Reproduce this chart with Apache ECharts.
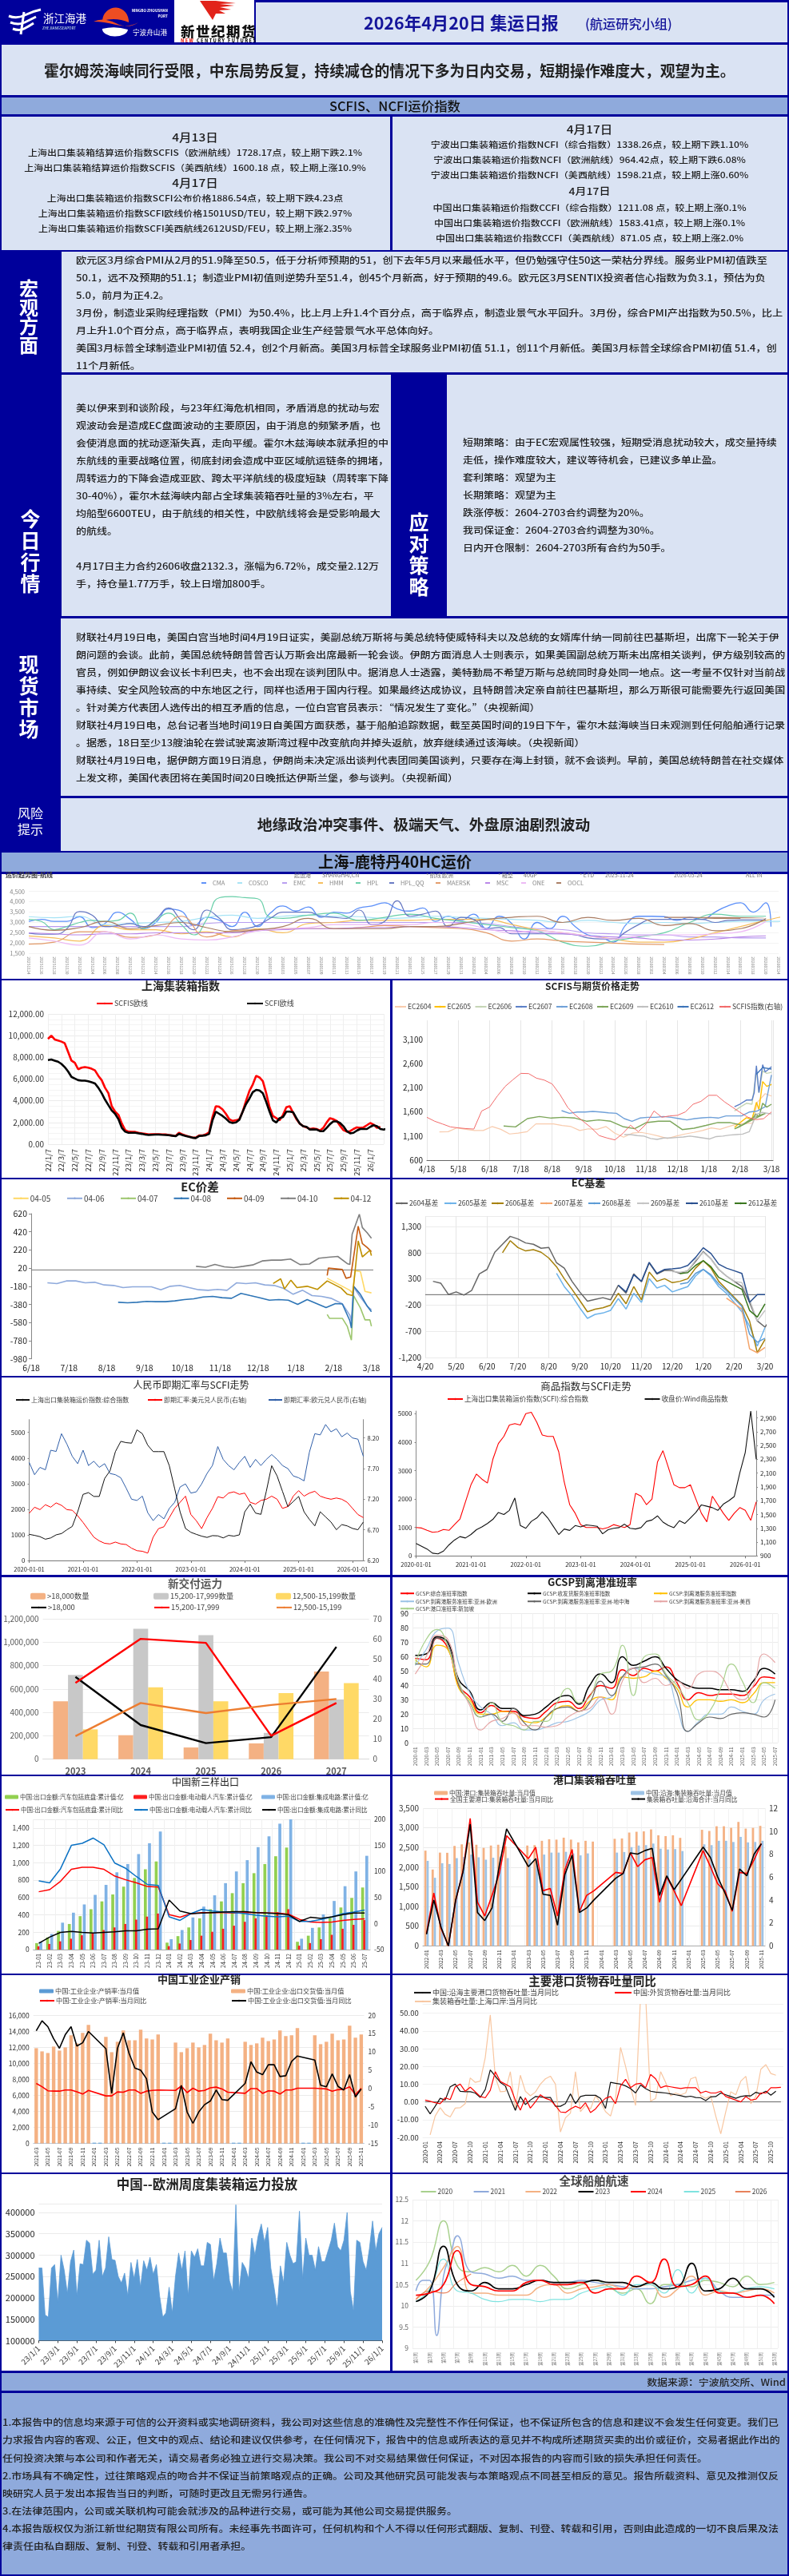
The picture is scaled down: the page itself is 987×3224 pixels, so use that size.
<!DOCTYPE html>
<html lang="zh-CN"><head><meta charset="utf-8"><title>集运日报</title>
<script src="https://cdn.jsdelivr.net/npm/echarts@6/dist/echarts.min.js"></script>
<style>
html,body{margin:0;padding:0;background:#00009b;width:987px;height:3224px;overflow:hidden;font-family:"Noto Sans CJK SC","Noto Sans",sans-serif}
.b{position:absolute}.t{position:absolute;white-space:nowrap;color:#1c1c1c;line-height:1}
#c{position:absolute;left:0;top:0;width:987px;height:3224px}
</style></head><body>
<svg class="b" style="left:0;top:0;z-index:2" width="330" height="56">
<rect x="2" y="3" width="216" height="50" fill="#00009b"/><rect x="218" y="0" width="100" height="53" fill="#fff"/>
<g fill="none" stroke="#fff" stroke-width="3"><path d="M11 20q10 4 20-1t20-7"/><path d="M13 28q10 4 18 0t14-7"/><path d="M16 36q8 3 14 0t12-7"/><path d="M30 15l-4 28"/></g>
<text x="54" y="28" font-size="13.5" fill="#fff">浙江海港</text><text x="53" y="37" font-size="4.6" fill="#dfe">ZHEJIANGSEAPORT</text>
<path d="M128 26a16 17 0 0 1 33 2q-16-7-33-2z" fill="#ee4d23"/><path d="M117 27q12-6 28 2t28-1q-12 7-28 3t-28-4z" fill="#ee4d23"/><path d="M128 36q16-4 32 1a16 9 0 0 1-32-1z" fill="#fff"/>
<text x="210" y="15" font-size="4.6" font-weight="700" fill="#fff" text-anchor="end">NINGBO ZHOUSHAN</text><text x="210" y="22" font-size="4.6" font-weight="700" fill="#fff" text-anchor="end">PORT</text><text x="166" y="44" font-size="8.6" fill="#fff">宁波舟山港</text>
<path d="M250 1h20l25 3-20 1 18 2-18 2 14 3-15 1 8 4-12 0-4 8z" fill="#e2231a"/>
<text x="226" y="46" font-size="17.5" font-weight="900" fill="#111" letter-spacing="1.5">新世纪期货</text>
<text x="226" y="53" font-size="5.6" font-weight="900" fill="#111" textLength="94"><tspan fill="#e2231a">NEW</tspan> CENTURY FUTURES</text>
</svg>
<div id="c"></div>
<script>
const headline="霍尔姆茨海峡同行受限，中东局势反复，持续减仓的情况下多为日内交易，短期操作难度大，观望为主。";
const leftBox=[["4月13日",172,15.5],["上海出口集装箱结算运价指数SCFIS（欧洲航线）1728.17点，较上期下跌2.1%",191,12],["上海出口集装箱结算运价指数SCFIS（美西航线）1600.18 点，较上期上涨10.9%",210,12],["4月17日",229,15.5],["上海出口集装箱运价指数SCFI公布价格1886.54点，较上期下跌4.23点",248,12],["上海出口集装箱运价指数SCFI欧线价格1501USD/TEU，较上期下跌2.97%",267,12],["上海出口集装箱运价指数SCFI美西航线2612USD/FEU，较上期上涨2.35%",286,12]];
const rightBox=[["4月17日",162,15.5],["宁波出口集装箱运价指数NCFI（综合指数）1338.26点，较上期下跌1.10%",181,12],["宁波出口集装箱运价指数NCFI（欧洲航线）964.42点，较上期下跌6.08%",200,12],["宁波出口集装箱运价指数NCFI（美西航线）1598.21点，较上期上涨0.60%",219,12],["4月17日",239,14],["中国出口集装箱运价指数CCFI（综合指数）1211.08 点，较上期上涨0.1%",260,12],["中国出口集装箱运价指数CCFI（欧洲航线）1583.41点，较上期上涨0.1%",279,12],["中国出口集装箱运价指数CCFI（美西航线）871.05 点，较上期上涨2.0%",298,12]];
const macroLines=["欧元区3月综合PMI从2月的51.9降至50.5，低于分析师预期的51，创下去年5月以来最低水平，但仍勉强守住50这一荣枯分界线。服务业PMI初值跌至","50.1，远不及预期的51.1；制造业PMI初值则逆势升至51.4，创45个月新高，好于预期的49.6。欧元区3月SENTIX投资者信心指数为负3.1，预估为负","5.0，前月为正4.2。","3月份，制造业采购经理指数（PMI）为50.4%，比上月上升1.4个百分点，高于临界点，制造业景气水平回升。3月份，综合PMI产出指数为50.5%，比上","月上升1.0个百分点，高于临界点，表明我国企业生产经营景气水平总体向好。","美国3月标普全球制造业PMI初值 52.4，创2个月新高。美国3月标普全球服务业PMI初值 51.1，创11个月新低。美国3月标普全球综合PMI初值 51.4，创","11个月新低。"];
const todayLines=["美以伊来到和谈阶段，与23年红海危机相同，矛盾消息的扰动与宏","观波动会是造成EC盘面波动的主要原因，由于消息的频繁矛盾，也","会使消息面的扰动逐渐失真，走向平缓。霍尔木兹海峡本就承担的中","东航线的重要战略位置，彻底封闭会造成中亚区域航运链条的拥堵，","周转运力的下降会造成亚欧、跨太平洋航线的极度短缺（周转率下降","30-40%），霍尔木兹海峡内部占全球集装箱吞吐量的3%左右，平","均船型6600TEU，由于航线的相关性，中欧航线将会是受影响最大","的航线。","","4月17日主力合约2606收盘2132.3，涨幅为6.72%，成交量2.12万","手，持仓量1.77万手，较上日增加800手。"];
const stratLines=["短期策略：由于EC宏观属性较强，短期受消息扰动较大，成交量持续","走低，操作难度较大，建议等待机会，已建议多单止盈。","套利策略：观望为主","长期策略：观望为主","跌涨停板：2604-2703合约调整为20%。","我司保证金：2604-2703合约调整为30%。","日内开仓限制：2604-2703所有合约为50手。"];
const spotLines=["财联社4月19日电，美国白宫当地时间4月19日证实，美副总统万斯将与美总统特使威特科夫以及总统的女婿库什纳一同前往巴基斯坦，出席下一轮关于伊","朗问题的会谈。此前，美国总统特朗普曾否认万斯会出席最新一轮会谈。伊朗方面消息人士则表示，如果美国副总统万斯未出席相关谈判，伊方级别较高的","官员，例如伊朗议会议长卡利巴夫，也不会出现在谈判团队中。据消息人士透露，美特勤局不希望万斯与总统同时身处同一地点。这一考量不仅针对当前战","事持续、安全风险较高的中东地区之行，同样也适用于国内行程。如果最终达成协议，且特朗普决定亲自前往巴基斯坦，那么万斯很可能需要先行返回美国","。针对美方代表团人选传出的相互矛盾的信息，一位白宫官员表示：“情况发生了变化。”（央视新闻）","财联社4月19日电，总台记者当地时间19日自美国方面获悉，基于船舶追踪数据，截至英国时间的19日下午，霍尔木兹海峡当日未观测到任何船舶通行记录","。据悉，18日至少13艘油轮在尝试驶离波斯湾过程中改变航向并掉头返航，放弃继续通过该海峡。（央视新闻）","财联社4月19日电，据伊朗方面19日消息，伊朗尚未决定派出谈判代表团同美国谈判，只要存在海上封锁，就不会谈判。早前，美国总统特朗普在社交媒体","上发文称，美国代表团将在美国时间20日晚抵达伊斯兰堡，参与谈判。（央视新闻）"];
const legalLines=["1.本报告中的信息均来源于可信的公开资料或实地调研资料，我公司对这些信息的准确性及完整性不作任何保证，也不保证所包含的信息和建议不会发生任何变更。我们已","力求报告内容的客观、公正，但文中的观点、结论和建议仅供参考，在任何情况下，报告中的信息或所表达的意见并不构成所述期货买卖的出价或征价，交易者据此作出的","任何投资决策与本公司和作者无关，请交易者务必独立进行交易决策。我公司不对交易结果做任何保证，不对因本报告的内容而引致的损失承担任何责任。","2.市场具有不确定性，过往策略观点的吻合并不保证当前策略观点的正确。公司及其他研究员可能发表与本策略观点不同甚至相反的意见。报告所载资料、意见及推测仅反","映研究人员于发出本报告当日的判断，可随时更改且无需另行通告。","3.在法律范围内，公司或关联机构可能会就涉及的品种进行交易，或可能为其他公司交易提供服务。","4.本报告版权仅为浙江新世纪期货有限公司所有。未经事先书面许可，任何机构和个人不得以任何形式翻版、复制、刊登、转载和引用，否则由此造成的一切不良后果及法","律责任由私自翻版、复制、刊登、转载和引用者承担。"];

// ---- chart data ----
const oceanDates=["20251124","20251126","20251128","20251130","20251202","20251204","20251206","20251208","20251210","20251212","20251214","20251216","20251218","20251220","20251222","20251224","20251226","20251228","20251230","20260101","20260103","20260105","20260107","20260109","20260111","20260113","20260115","20260117","20260119","20260121","20260123","20260125","20260127","20260129","20260131","20260202","20260204","20260206","20260208","20260210","20260212","20260214","20260216","20260218","20260220","20260222","20260224","20260226","20260228","20260302","20260304","20260306","20260308","20260310","20260312","20260314","20260316","20260318","20260320","20260324"];
const oCMA=[3050,3150,3050,3050,3280,2750,2950,3500,3150,2700,3000,3650,3550,2850,3250,3100,2800,3500,2800,3450,3800,3550,3750,3250,3500,3450,3700,3800,3950,3650,3550,3700,3050,3300,3100,3400,2700,3300,2950,2200,3000,2700,3300,2800,2400,2300,2050,2900,3300,3300,3280,3100,3250,3150,3500,3800,3950,3500,3950];
const oQQ=[2480,2430,2430,2700,3530,3350,2800,2850,2950,2800,3150,3700,3100,2650,3600,3200,2650,2700,2850,3200,3500,3500,3500,3300,3250,3200,3600,2900,3050,4050,3300,3400,3550,2800,3250,3150,2700,2750,2450,2450,2450,2450,2450,2400,2250,2200,2200,2550,2900,3150,3150,3150,3150,3150,3000,3100,3120,3120,3120];
const oCOSCO=[3280,3230,3300,2900,2950,3000,3050,3250,3350,3200,3300,3350,3300,3280,3200,3230,3300,3250,3200,3150,3100,3000,3100,3000,2950,3000,2950,3000,3050,3050,3050,3050,3050,3050];
const oEMC=[2800,2800,2800,2800,2800,2800,2800,2950,3000,3000,3000,3000,3000,3000,3000,3000,3000,3000,2950,2800,2700,2650,2500,2450,2400,2400,2300,2300,2250,2250];
const oHMM=[2350,2250,2100,2850,2650,2650,2450,2550,2300,2700,2500,2950,3000,3100,3100,3100,3150,3150,3150,2900,2650,2500,2350,2200,2050,2050,2200,2500,2800,3100,3300,3150];
const oHPLa=[3150,3050,2650,2800,3000,3100,3050,3100,3450,2700,3100,3450,2900,2400,3150,4200,4250,4200,4150,3250];
const oHPLb=[3200,3350,3450,3100,3250,3400,3200,3050,2900,2750,2600,2050,1850,2100,2300,2500,3000,3400,3300,3300];
const oMAERSK=[1950,2050,2550,2550,2280,2400,3300,2300,2600,2650,2700,2700,2700,2750,2850,2800,2750,2700,2500,2100,2200,2100,2050,2000,1950,1930];
const oMSC=[2500,2450,2400,2450,2450,2500,2500,2500,2500,2600,2650,2700,2700,2750,2750,2800,2800,2750,2650,2600,2500,2450,2350,2300,2250,2150,2150,2200,2300,2350];
const oONE=[2250,2100,1900,2550,2200,2400,2200,2150,2300,2600,2700,2750,2900,2900,2900,2900,3000,2950,2700,2500,2600,2500,2350,2200,2350,2400,2400,2450,2550,3050];
const oOOCL=[2800,2620,2750,3050,2700,2850,3000,2750,2550,2650,2800,3200,2700,2700,2700,2800,2800,2950,3150,3250,3300,3000,3250,3100,3200,2850,2950,2600,2700,3200];
const oOOCLb=[3250,3250,3200,3200];
const scfisLabels=["22/1/7","22/3/7","22/5/7","22/7/7","22/9/7","22/11/7","23/1/7","23/3/7","23/5/7","23/7/7","23/9/7","23/11/7","24/1/7","24/3/7","24/5/7","24/7/7","24/9/7","24/11/7","25/1/7","25/3/7","25/5/7","25/7/7","25/9/7","25/11/7","26/1/7"];
const scfisEU=[9700,10000,9650,9550,9450,9300,8500,7700,7500,6900,7050,7100,7050,6950,6800,6300,5900,5200,4700,3500,3000,2700,1900,1300,1150,1130,1130,1050,1000,950,900,920,920,920,900,900,850,800,750,1050,900,800,700,620,600,800,800,900,1100,2500,3500,3450,3200,2800,2300,2150,2200,2300,3000,4000,4900,5500,6300,6150,5800,4700,3400,2600,2400,2200,2700,3400,3500,2900,2300,1900,1650,1550,1400,1450,1400,1250,1500,2000,2400,2300,2150,1700,1300,1150,1200,1400,1550,1500,1550,1750,1950,1800,1500,1600];
const scfiEU=[7750,7800,7700,7600,7400,7100,6700,6200,6050,5900,5850,5850,5800,5700,5600,5200,4700,4100,3600,3100,2800,2300,1500,1150,1050,1050,1050,1000,950,880,850,870,880,880,860,850,830,780,730,950,850,750,680,600,560,750,780,820,950,2200,3000,2800,2600,2350,2050,1950,2000,2250,3000,3700,4200,4800,5000,4950,4700,3900,3000,2200,2000,2400,2500,3000,3000,2950,2400,1900,1650,1600,1350,1350,1350,1200,1200,1500,1850,2100,2100,1950,1650,1200,1000,1050,1250,1400,1400,1400,1600,1750,1650,1400,1350,1450];
const monthLabels1=["4/18","5/18","6/18","7/18","8/18","9/18","10/18","11/18","12/18","1/18","2/18","3/18"];
const fSCFIS=[1489,1407,1350,1290,1270,1255,1245,1620,1700,1930,2130,2270,2400,2395,2300,2260,2180,1960,1690,1530,1400,1270,1110,1060,1020,1150,1325,1190,1350,1620,1490,1517,1530,1600,1760,1820,1945,1945,1810,1700,1590,1490,1440,1460,1600];
const f04=[1187,1190,1270,1240,1215,1215,1297,1240,1143,1160,1190,1352,1352,1352,1320,1297,1215,1250,1240,1297,1160,1077,1160,1176,1143,1100,1050,1100,1143,1176,1215,1270,1240,1297,1352];
const f04b=[[10.4,1370],[10.55,1800],[10.8,1980],[11,1930]];
const f09=[1308,1290,1462,1506,1473,1489,1473,1407,1434,1407,1297,1253,1380,1407,1407,1235,1262,1320,1380,1380,1325,1489,1570];
const f08=[1627,1572,1599,1599,1610,1599,1583,1572,1462,1407,1473,1489,1489,1506,1489,1462,1434,1462,1478,1489,1473,1517,1517,1517,1599,1620,1709];
const f07=[[9.82,1709],[10,1764],[10.2,1846],[10.38,1846],[10.45,2000],[10.52,2560],[10.6,2000],[10.72,2580],[10.8,2430],[10.9,2480],[11,2540]];
const f06=[[9.82,1620],[10,1700],[10.2,1780],[10.38,1760],[10.52,2460],[10.6,2000],[10.72,2450],[10.85,2400],[11,2420]];
const f05=[[9.82,1280],[10,1380],[10.2,1480],[10.38,1450],[10.52,1800],[10.6,1650],[10.72,2230],[10.85,2130],[11,2170]];
const f09b=[[9.82,1250],[10,1300],[10.2,1370],[10.38,1450],[10.5,1560],[10.6,1500],[10.72,1780],[10.85,1700],[11,1760]];
const f10=[1130,1130,1110,1100,1050,1030,1060,1060,1070,1080,1100,1080,1060,1040,1090,1100,1120,1130,1140,1190];
const f10b=[[10.52,1550],[10.7,1590],[11,1560]];
const f12=[[10.52,2380],[10.72,2520],[11,2490]];
const months2=["6/18","7/18","8/18","9/18","10/18","11/18","12/18","1/18","2/18","3/18"];
const sp06=[-142,-150,-121,-121,-142,-136,-165,-171,-195,-186,-186,-186,-218,-180,-171,-195,-218,-224,-215,-224,-142,-150,-142,-165,-171,-203,-268,-224,-283,-292,-312];
const sp06b=[[8.23,-372],[8.43,-500],[8.47,-560],[8.53,-190],[8.71,-300],[8.89,-400],[9,-440]];
const sp08=[-356,-362,-356,-347,-350,-350,-341,-327,-318,-298,-292,-306,-312,-259,-283,-306,-333,-327,-333,-380,-327,-371,-415,-371];
const sp08b=[[8.23,-375],[8.43,-560],[8.47,-640],[8.53,-180],[8.71,-270],[8.89,-400],[9,-460]];
const sp07=[[7.83,-490],[7.89,-533],[8.23,-533],[8.36,-620],[8.47,-774],[8.53,-283],[8.71,-420],[8.83,-550],[8.96,-550],[9,-621]];
const sp05=[[7.83,-92],[7.96,-121],[8.23,-180],[8.43,-224],[8.5,-255],[8.57,-9],[8.71,-18],[8.83,-236],[9,-253]];
const sp09=[[7.83,-62],[7.86,20],[8.23,5],[8.33,-92],[8.45,-78],[8.65,482],[8.76,291],[8.89,247],[9,202]];
const sp10=[40,30,60,35,26,40,55,99,108,108,120,60,65,129,140,149,70];
const sp10b=[[8.43,60],[8.49,394],[8.68,614],[8.76,467],[8.89,408],[9,349]];
const sp12=[[6.4,-150],[6.6,-98],[6.7,-209],[6.87,-112],[7.03,-195],[7.3,-180],[7.57,-215],[7.83,-121],[8.2,-200],[8.36,-268],[8.5,-283],[8.65,320],[8.76,144],[8.96,217],[9,158]];
const months3=["4/20","5/20","6/20","7/20","8/20","9/20","10/20","11/20","12/20","1/20","2/20","3/20"];
const b04=[255,220,2,53,-8,78,396,482,810,962,1113,1063,987,962,886,901,608,507,255,53,-124,-89,-58,-99,179,27,396,245,608,391,467,457,406,457,633,820,684,482,356,255,154,-149,-500,-620,-402];
const b06=[800,1030,900,835,860,810,699,532,305,103,-109,-326,-276,-250,-200,27,-175,154,-99,431,255,305,229,255,305,507,649,507,255,103,-48,-200,-503,-1109,-856];
const b05=[406,154,-23,-250,-452,-376,-351,-300,-74,-275,27,-149,305,128,179,53,103,154,356,482,356,154,27,-149,-326,-604,-983,-629];
const b10=[179,53,381,255,618,406,482,492,507,558,709,896,785,583,507,457,406,-149,2,2];
const b09=[440,430,450,659,810,684,482,356,255,230,-98,-500,-300];
const b12=[400,420,558,649,532,330,255,179,103,-301,-427,-175];
const b08=[204,230,406,482,381,204,78,-74,-225,-755,-907,-831];
const b07=[-64,-170,-275,-1033,-1109,-1009];
const yearLabels=["2020-01-01","2021-01-01","2022-01-01","2023-01-01","2024-01-01","2025-01-01","2026-01-01"];
const fxSCFI=[1020,980,930,830,880,1000,1050,1200,1330,1900,2580,2650,2500,2500,3200,3500,4250,4650,4600,4580,5100,4950,4500,4250,4250,4250,3700,2800,1900,1250,1100,1020,950,900,970,960,880,980,950,1000,1900,2200,1850,1800,2700,3700,3300,2700,2100,2300,2500,1900,1600,1350,1900,1700,1500,1200,1400,1350,1250,1200,1500];
const fxUSD=[6.97,7.07,7.03,7.11,7.07,7.14,7.1,7.03,7.02,6.93,6.82,6.7,6.58,6.52,6.48,6.47,6.5,6.47,6.46,6.4,6.36,6.35,6.32,6.58,6.72,6.75,6.9,7.05,7.15,7.25,6.95,6.85,6.72,6.9,7.05,7.24,7.22,7.3,7.32,7.28,7.3,7.15,7.12,7.18,7.2,7.25,7.2,7.05,7.08,7.25,7.34,7.25,7.3,7.33,7.25,7.22,7.2,7.22,7.2,7.15,7.05,6.95,6.9];
const fxEUR=[7.8,7.6,7.72,7.68,8,7.98,8.27,8.1,7.9,7.78,8,7.75,7.82,7.72,7.78,7.62,7.6,7.55,7.38,7.2,7.18,7.25,6.98,6.85,6.95,6.88,7.05,7.15,7.4,7.45,7.3,7.32,7.45,7.62,7.75,8.06,7.85,7.75,7.68,7.8,7.9,7.72,7.85,7.75,7.85,7.93,7.85,7.75,7.7,7.58,7.55,7.5,7.97,8.27,8.25,8.42,8.3,8.35,8.22,8.28,8.2,8.18,7.9];
const cmSCFI=[1000,980,900,830,850,930,900,1100,1300,1900,2500,2880,2700,2560,3400,3950,4200,4600,4650,4600,5000,5050,4700,4250,4200,4200,3660,2600,1800,1500,1100,1000,1000,1000,950,1000,1100,1050,1000,1100,2200,2100,1800,2000,3300,3700,3100,2500,2400,2400,2500,2000,1500,1200,2100,1800,1500,1250,1500,1700,1600,1250,1900];
const cmWind=[1080,1040,1000,940,930,970,1060,1130,1180,1160,1210,1280,1320,1370,1430,1530,1500,1560,1740,1340,1300,1400,1450,1540,1450,1330,1210,1290,1270,1340,1320,1350,1340,1330,1220,1280,1300,1310,1360,1300,1290,1310,1400,1420,1480,1390,1340,1310,1410,1370,1450,1530,1640,1620,1600,1560,1650,1700,1760,2100,2400,3000,2300];
const delYears=["2023","2024","2025","2026","2027"];
const dQty18=[495000,205000,100000,135000,750000],dQty15=[720000,1115000,1060000,225000,510000],dQty12=[255000,615000,495000,565000,650000];
const dL18=[41,17,8,11,56],dL15=[38,60,58,11.7,28],dL12=[11.5,28,23,27,30];
const gCat=[];for(let y=2020;y<=2025;y++)for(let m=1;m<=12;m++)if(y<2025||m<=7)gCat.push(y+"-"+String(m).padStart(2,"0"));
const gAll=[59,58,73,66,40,32,21,26,22,22,18,17,22,28,29,24,33,40,38,51,47,52,50,53,42,30,35,33,34,34,33,39,46,45];
const gCargo=[61,62,74,70,44,36,23,28,24,24,19,20,25,31,33,27,40,48,42,60,54,57,60,52,44,40,38,38,37,37,36,43,52,48];
const gSvc=[58,53,68,65,38,30,20,20,22,21,15,14,18,24,26,22,29,32,30,46,45,46,50,45,38,25,30,30,29,30,28,34,42,42];
const gEU=[54,65,78,80,55,35,25,20,12,14,9,9,11,14,15,18,22,30,32,46,52,50,48,46,25,8,15,20,20,25,22,20,30,34];
const gMed=[55,55,73,69,40,28,18,20,15,24,14,9,18,24,25,22,28,43,33,46,52,53,55,47,35,8,14,18,17,20,21,20,18,30];
const gUS=[48,60,75,72,42,26,9,15,17,21,12,12,11,12,18,22,24,32,20,43,52,42,45,40,43,38,48,50,47,35,30,40,62,56];
const gSG=[55,72,79,67,42,28,18,28,14,12,9,15,15,28,38,28,32,48,50,68,33,60,62,48,40,28,16,22,38,55,43,28,42,38];
const xCat=[];for(const y of [23,24])for(let m=1;m<=12;m++)xCat.push(y+"-"+String(m).padStart(2,"0"));for(let m=1;m<=7;m++)xCat.push("25-0"+m);
const xCar=[75,140,215,295,385,465,555,635,725,825,925,1015,80,155,255,360,465,555,650,765,880,985,1075,1175,90,160,255,370,485,595,715];
const xEV=[38,65,95,125,165,190,225,255,295,345,380,415,40,70,110,160,205,240,275,320,360,395,430,465,45,75,120,170,240,285,340];
const xIC=[90,180,310,425,520,630,745,890,985,1100,1225,1360,120,225,370,495,625,765,900,1030,1180,1305,1450,1500,125,250,405,560,730,900,1080];
const xCarY=[61,65,81,104,108,108,104,91,84,78,71,70,17,12,19,21,21,21,20,21,21,20,20,18,8,3,2,3,6,8,9];
const xEVY=[82,78,105,150,154,164,151,116,106,90,75,73,13,6,19,27,24,22,21,19,16,14,13,14,4,4,8,13,19,22,26];
const xICY=[-38,-26,-17,-15,-17,-18,-17,-16,-14,-14,-11,-10,45,24,19,20,21,22,23,23,21,20,19,17,4,12,10,13,17,20,20];
const pCat=[];for(let y=2022;y<=2025;y++)for(let m=1;m<=12;m++)if(y<2025||m<=11)pCat.push(y+"-"+String(m).padStart(2,"0"));
const n=null;
const pChina=[2420,1940,2370,2365,2540,2580,2630,2570,2490,2550,2570,2530,n,n,2550,2560,2670,2710,2700,2750,2700,2630,2670,2650,n,n,2720,2730,2880,2900,2910,2960,2810,2790,2810,2745,n,n,2950,2920,3040,3040,3000,3150,2980,3000,3050];
const pCoast=[2160,1730,2100,2080,2230,2260,2320,2250,2190,2240,2270,2230,n,n,2200,2230,2320,2370,2370,2390,2350,2300,2350,n,n,n,2370,2385,2510,2550,2560,2600,2470,2450,2460,2410,n,n,2580,2560,2670,2670,2640,2770,2630,2640,2670];
const pYoY=[1.1,4.6,1.5,0,3.9,6.5,11.1,3.8,2.6,4.4,6.3,9.6,n,n,7.6,8.6,4.8,5,2.6,6.6,8.4,3,4.4,4.8,n,n,6.4,6.3,8.1,6.9,7.5,7.7,3.8,6,4.8,3.5,n,n,8.3,6.9,5.4,4.8,3,6.4,6.3,7.5,8.9];
const pCoastY=[1,4,1.6,0,4,6.4,10.6,2.9,2.2,3.3,7,10.2,n,n,6.9,7.6,4.5,4.4,1.8,6.2,7.9,2.9,3.3,4,n,n,5.9,6.3,8.1,8,8.3,8.5,4.4,6.1,4.9,5.8,n,n,8.6,7.7,6,4.6,3.1,6.7,6.1,8,8.9];
const iCat=[];for(let y=2021;y<=2025;y++)for(let m=1;m<=12;m++)if((y>2021||m>=3)&&(y<2025||m<=11))iCat.push(y+"-"+String(m).padStart(2,"0"));
const iExport=[11900,11500,11300,12100,11600,12000,13500,12500,13800,14800,n,n,13300,11400,12700,14100,12900,12900,14200,13100,13000,13600,n,n,12600,11400,11900,12600,12000,12300,13700,12900,12600,13100,n,n,12700,12300,12500,13200,12800,13000,14100,13400,13500,14400,n,n,13500,12400,12700,13700,12900,13000,14700,13200,13600];
const iRate=[97,98,98,97,97,98,97,97,98,98,99,98,97,97,98,97,97,98,97,97,98,98,98,97,96,97,98,97,97,97,98,97,97,98,97,97,96,97,97,97,97,97,97,97,98,98,97,97,97,97,97,97,97,97,97,97,97];
const iRateY=[1.4,.5,-.6,-.7,-.7,-.4,-.4,-.9,-1.5,-.5,n,n,-2,-2,-.9,-1,-.4,-.4,-1.3,-.7,-.5,-.4,n,n,-.5,.7,-1.1,.1,-.7,-.5,.2,.4,-.1,-1,n,n,-1.3,0,0,-1.3,-.6,-.7,-1.5,-.4,-.4,.1,n,n,.1,0,-.1,-.7,-.3,-.2,.5,-1.7,.1];
const iExpY=[15.8,18.5,16.9,13.6,11,14.7,16.9,11.6,12.5,15.6,n,n,10.9,-1.3,11,15.2,9.6,5.6,5,2.7,-6.4,-8.5,n,n,-5.5,.9,-6.4,-9.5,-6.4,-4.4,-3.4,-.4,-3,-3.2,n,n,1.4,7.3,4.5,3.8,6.5,6.5,3.3,3.5,7.4,8.9,n,n,7.8,.9,.5,4,.6,-.4,3.8,-2.3,-.1];
const tCat=[];for(let y=2020;y<=2025;y++)for(let m=1;m<=12;m++)tCat.push(y+"-"+String(m).padStart(2,"0"));
const tCoast=[-2.5,-6.8,-2.5,2,1,8.5,10,6,5.7,5.7,5,2.5,7,18,14.5,11,9,2,-4.8,3,-1.5,1,3,2.8,2.5,2.5,-2.5,-2.5,-1,4.5,-1,3,3.7,3.7,3.7,2,-3.7,11,10.5,10,9,7.5,5,9.5,7.5,6,5.5,5.3,5,4.5,4,3.5,2.8,3.2,2.5,2.3,.7,2.8,3,5,4,3,2,3,3.5,3.4,5.4,4.5,6,3.8,6];
const tTrade=[1,.3,-.5,-1,2.3,1.3,8.5,10,6,8.3,5.7,3,2.3,6.5,17,11.5,10,8.5,1,-4.7,2.3,-3.5,0,4,2,1,-2,-5.7,-6,-4,-2.5,-3.7,-.5,-6,-4,-.5,2,3,-1,9,12.7,8,10,10.5,8,15.5,13,8,9,8.5,8,7.5,8,8,8,5,6,5,5,6,3,2,1,0,3,1,1.5,5,5,8,8,8.2];
const tSH=[-18.6,-8,-3.3,-7,-8.5,-3.5,-3.3,-1,13.5,11,11.7,25,49,14,5.7,6,17,-4,15,6,3.4,5.5,10,13,14.5,10,-17,-9,-6.3,17,-5.5,-2,-4,3.4,-.3,-5.5,-8,2,30.7,20,8,-2,60,60,.4,2,17,11,3.4,5,4,5,13,14,3.4,2,3.4,-8,-18,-5.5,5.7,4,11.7,14.4,-1,3,18.4,21,16,15];
const wLabels=["23/1/1","23/3/1","23/5/1","23/7/1","23/9/1","23/11/1","24/1/1","24/3/1","24/5/1","24/7/1","24/9/1","24/11/1","25/1/1","25/3/1","25/5/1","25/7/1","25/9/1","25/11/1","26/1/1"];
const weeklyCap=[270,270,160,155,270,278,190,300,265,210,285,312,205,280,278,335,328,255,265,335,250,270,343,290,288,250,235,258,205,283,245,290,225,287,265,295,255,278,205,155,165,225,165,250,305,265,310,205,310,295,315,275,275,330,325,240,280,340,305,305,240,215,418,215,283,270,245,340,300,345,373,330,365,270,225,175,275,235,330,300,280,285,403,245,340,300,300,265,320,285,285,310,335,375,320,310,335,400,215,170,335,330,285,265,315,380,310,350,365];
const wkCat=[];for(let w=1;w<=53;w++)wkCat.push("第"+w+"周");
const s20=[10.6,11.05,12,10.95,10.8,10.9,10.8,10.95,10.7,10.95,10.7,10.4,10.5,10.6,10.45,10.3,10.4,10.05,10.5,10.5,10.45,10.6,10.55,10.45,10.7,10.5,10.55];
const s21a=[10.35,10.6,10.6,9.3,10.7,11.2,11.65];
const s21=[10.8,10.75,10.65,10.7,10.6,10.6,10.55,10.55,10.6,10.55,10.5,10.45,10.4,10.4,10.45,10.5,10.6,10.65,10.35,10.2,10.2,10.25,10.25];
const s22=[10.15,10.45,10.9,11.4,10.3,10.3,10.25,10.25,10.25,10.45,10.5,10.3,10.4,10.45,10.5,10.4,10.45,10.5,10.2,10.4,10.7,10.25,10.35,10.3,10.35,10.4,10.3];
const s23=[10.1,10.35,11.4,10.5,10.35,10.55,10.4,10.4,10.5,10.6,10.55,10.55,10.55,10.6,10.55,10.55,10.45,10.55,10.4,10.45,11,10.35,10.4,10.65,10.4,10.4,10.2];
const s24=[10.25,10.3,10.5,11.3,10.5,10.45,10.35,10.35,10.55,10.6,10.5,10.5,10.55,10.3,10.4,10.4,10.7,10.55,11.1,10.45,10.5,10.7,10.3,10.3,10.2,10.25,10.05];
const s25=[10.1,10.4,11.1,10.35,10.3,10.15,10.1,10.15,10.15,10.1,10.15,10.15,10.3,10.4,10.45,10.25,10.5,10.5,10.3,10.85,10.3,10.65,10.35,10.3,10.4,10.45,10.4];
const s26=[10.15,10.35,10.3,10.55,10.75];

// ---- builders ----
const P=(s,st,a)=>a.map((v,i)=>[s+i*st,v]);
const F='"Noto Sans CJK SC","Noto Sans",sans-serif';
const opt={animation:false,backgroundColor:'transparent',textStyle:{fontFamily:F},title:[],legend:[],grid:[],xAxis:[],yAxis:[],series:[],graphic:[]};
const isO=o=>o&&typeof o==='object'&&!Array.isArray(o);
function mg(a,b){const r=Object.assign({},a);for(const k in b||{})r[k]=isO(b[k])&&isO(r[k])?mg(r[k],b[k]):b[k];return r}
function G(l,t,r,b){opt.grid.push({left:l,top:t,width:r-l,height:b-t});return opt.grid.length-1}
function YA(g,min,max,iv,fs,o){opt.yAxis.push(mg({type:'value',gridIndex:g,min,max,interval:iv,axisLabel:{fontSize:fs,color:'#333',margin:5,fontFamily:F},splitLine:{show:true,lineStyle:{color:'#ebebeb'}},axisLine:{show:false},axisTick:{show:false}},o));return opt.yAxis.length-1}
function RA(g,min,max,iv,fs,o){return YA(g,min,max,iv,fs,mg({position:'right',splitLine:{show:false}},o))}
function XV(g,labels,max,fs,o){opt.xAxis.push(mg({type:'value',gridIndex:g,min:0,max,interval:1,axisLabel:{fontSize:fs,color:'#333',margin:6,fontFamily:F,showMaxLabel:false,formatter:v=>Number.isInteger(v)&&labels[v]!==undefined?labels[v]:''},splitLine:{show:false},axisLine:{show:false,onZero:false},axisTick:{show:false}},o));return opt.xAxis.length-1}
function XC(g,cats,iv,fs,o){opt.xAxis.push(mg({type:'category',gridIndex:g,data:cats,axisLabel:{interval:iv,rotate:90,fontSize:fs,color:'#444',margin:5,fontFamily:F},axisLine:{show:true,onZero:false,lineStyle:{color:'#bbb'}},axisTick:{show:false}},o));return opt.xAxis.length-1}
function L(name,c,w,x,y,data,e){opt.series.push(mg({type:'line',name,xAxisIndex:x,yAxisIndex:y,data,symbol:'none',showSymbol:false,connectNulls:true,lineStyle:{color:c,width:w},itemStyle:{color:c},z:4},e))}
function B(name,c,wd,x,y,data,e){opt.series.push(mg({type:'bar',name,xAxisIndex:x,yAxisIndex:y,data,barWidth:wd,barGap:0,itemStyle:{color:c},z:2},e))}
function Z(x,y,a,b,c){opt.series.push({type:'line',name:'',silent:true,xAxisIndex:x,yAxisIndex:y,data:[[a,0],[b,0]],symbol:'none',lineStyle:{color:c||'#666',width:1},z:3})}
function TT(text,x,y,fs,o){opt.title.push({text,left:x,top:y-fs*.62,textAlign:'center',padding:0,textStyle:Object.assign({fontSize:fs,fontWeight:'bold',color:'#222',fontFamily:F},o||{})})}
function LG(x,y,name,fs,w,h,o){opt.legend.push(mg({left:x,top:y-fs*.62,padding:0,data:[name],itemWidth:w,itemHeight:h,itemGap:0,selectedMode:false,textStyle:{fontSize:fs,color:'#404040',padding:[0,0,0,-3],fontFamily:F}},o))}
function GT(x,y,text,fs,c,o){opt.graphic.push({type:'text',left:x,top:y-fs*.6,silent:true,style:Object.assign({text,fontSize:fs,fill:c,fontFamily:F},o||{})})}

// 0 ocean freight
(function(){const g=G(36,1115.7,974,1193.3);
const x=XV(g,oceanDates,59,5,{axisLabel:{rotate:-90,color:'#888',margin:4,showMaxLabel:true}});
const y=YA(g,1500,4500,500,7.5,{axisLabel:{color:'#888'},splitLine:{lineStyle:{color:'#f3f3f3'}}});
const sm={smooth:true};
L('CMA','#5b8ff9',1.3,x,y,P(0,1,oCMA).concat([[58.4,2800]]),sm);
L('COSCO','#a6e3f5',1.2,x,y,P(0,2,oCOSCO),sm);
L('EMC','#b79cf0',1.1,x,y,P(0,2,oEMC),sm);
L('HMM','#f6bd5a',1.2,x,y,P(0,2,oHMM),sm);
L('HPL','#68cfa8',1.2,x,y,P(0,1,oHPLa).concat(P(20,2,oHPLb)),sm);
L('HPL_QQ','#6577c2',1.2,x,y,P(0,1,oQQ),sm);
L('MAERSK','#e39a68',1.2,x,y,P(0,2,oMAERSK),sm);
L('MSC','#b884e8',1.1,x,y,P(0,2,oMSC),sm);
L('ONE','#ecb8f5',1.2,x,y,P(0,2,oONE),sm);
L('OOCL','#a97c62',1.2,x,y,P(0,2,oOOCL).concat(P(50,2,oOOCLb)),sm);
[['CMA',252],['COSCO',297],['EMC',353],['HMM',398],['HPL',445],['HPL_QQ',487],['MAERSK',545],['MSC',607],['ONE',652],['OOCL',696]].forEach(a=>LG(a[1],1106,a[0],7.5,6,2,{icon:'rect',textStyle:{color:'#888',padding:[0,0,0,3]}}));
GT(7,1096,'运价趋势图-航线',8,'#444',{fontWeight:'bold'});
[[368,'起运港'],[403,'SHANGHAI,CN'],[533,'* 航线'],[553,'欧洲'],[623,'* 箱型'],[655,'40GP'],[725,'* ETD'],[757,'2025-11-24'],[843,'2026-03-24'],[933,'ALL IN']].forEach(a=>GT(a[0],1096,a[1],7,'#777'));
})();
// 1 scfis
(function(){const g=G(60,1269,480,1432);
const x=XV(g,scfisLabels,25,9.5,{axisLabel:{rotate:90},splitLine:{show:true,lineStyle:{color:'#efefef'}}});
const y=YA(g,0,12000,2000,10,{axisLabel:{formatter:v=>v.toLocaleString('en-US',{minimumFractionDigits:2})},minorSplitLine:{show:true,lineStyle:{color:'#f4f4f4'}},minorTick:{show:false,splitNumber:4}});
L('SCFIS欧线','#f00',2.6,x,y,P(0,.25,scfisEU));L('SCFI欧线','#000',2.6,x,y,P(0,.25,scfiEU));
TT('上海集装箱指数',226,1235,14);LG(120,1257,'SCFIS欧线',9,20,3);LG(308,1257,'SCFI欧线',9,20,3);
})();
// 2 scfis vs futures
(function(){const g=G(534,1277,967,1452);
const x=XV(g,monthLabels1,11.05,10,{axisLabel:{color:'#222'},splitLine:{show:true,lineStyle:{color:'#e6e6e6'}},axisLine:{show:true,lineStyle:{color:'#666'}}});
const y=YA(g,600,3500,500,10,{axisLabel:{color:'#222',formatter:v=>v.toLocaleString('en-US'),showMaxLabel:false},splitLine:{show:false}});
L('EC2604','#f8cbad',1.2,x,y,P(.4,.28,f04).concat(f04b));
L('EC2605','#ffc000',1.4,x,y,f05);L('EC2606','#c5d5b5',1.4,x,y,f06);L('EC2607','#5b7fc7',1.4,x,y,f07);
L('EC2608','#6fa0d8',1.4,x,y,P(4.3,.25,f08).concat([[11,2368]]));
L('EC2609','#7da65a',1.4,x,y,P(2.45,.38,f09).concat(f09b));
L('EC2610','#bfbfbf',1.4,x,y,P(6.3,.21,f10).concat(f10b));L('EC2612','#3a72b8',1.4,x,y,f12);
L('SCFIS指数(右轴)','#f26a6a',1,x,y,P(0,.25,fSCFIS));
TT('SCFIS与期货价格走势',741,1236,12);
[['EC2604',493],['EC2605',542.5],['EC2606',593.5],['EC2607',644],['EC2608',695],['EC2609',746],['EC2610',796],['EC2612',846.5],['SCFIS指数(右轴)',899]].forEach(a=>LG(a[1],1261,a[0],8.6,14,3));
})();
// 3 ec spread
(function(){const g=G(39,1519,467,1700.7);
const x=XV(g,months2,9.05,10.5,{axisLabel:{color:'#222'}});
const y=YA(g,-980,620,200,10.5,{axisLabel:{color:'#222'},splitLine:{show:false},axisLine:{show:true,lineStyle:{color:'#888'}},axisTick:{show:true,length:3,lineStyle:{color:'#888'}}});
Z(x,y,0,9.05,'#777');
L('04-05','#ffd966',1.6,x,y,sp05);L('04-06','#8faadc',1.6,x,y,P(.43,.25,sp06).concat(sp06b));L('04-07','#9dc66e',1.6,x,y,sp07);
L('04-08','#2e75b6',1.6,x,y,P(2.3,.25,sp08).concat(sp08b));L('04-09','#c55a11',1.6,x,y,sp09);L('04-10','#7f7f7f',1.6,x,y,P(4.36,.25,sp10).concat(sp10b));L('04-12','#bf9000',1.6,x,y,sp12);
TT('EC价差',250,1487,14.5);
[['04-05',15.7],['04-06',83],['04-07',150],['04-08',216.5],['04-09',283],['04-10',350],['04-12',416.6]].forEach(a=>LG(a[1],1501,a[0],10,19,3));
})();
// 4 ec basis
(function(){const g=G(532,1522,957,1699);
const x=XV(g,months3,11,10,{axisLabel:{color:'#222',showMaxLabel:true},splitLine:{show:true,lineStyle:{color:'#e6e6e6'}}});
const y=YA(g,-1200,1500,500,10,{axisLabel:{color:'#222',formatter:v=>v.toLocaleString('en-US'),showMaxLabel:false}});
Z(x,y,0,11,'#666');
L('2604基差','#666',1.5,x,y,P(.25,.25,b04));L('2605基差','#6db3ea',1.5,x,y,P(4.25,.25,b05));L('2606基差','#a6800a',1.5,x,y,P(2.5,.25,b06));
L('2607基差','#f4a46a',1.5,x,y,P(9.75,.25,b07));L('2608基差','#5b9bd5',1.5,x,y,P(8.25,.25,b08));L('2609基差','#c4c4c4',1.5,x,y,P(8,.25,b09));
L('2610基差','#274e8f',1.5,x,y,P(6.25,.25,b10));L('2612基差','#38761d',1.5,x,y,P(8.25,.25,b12));
TT('EC基差',736,1482,13);
['2604基差','2605基差','2606基差','2607基差','2608基差','2609基差','2610基差','2612基差'].forEach((n,i)=>LG([494,555,614,675,735,796,857,918][i],1507,n,8.6,15,3));
})();
// 5 fx
(function(){const g=G(36.5,1776.7,454.5,1953);
const x=XV(g,yearLabels,6.2,7.5,{axisLabel:{margin:7,color:'#222'},axisLine:{show:true,lineStyle:{color:'#777'}},axisTick:{show:true,length:3}});
const ax={axisLine:{show:true,lineStyle:{color:'#888'}},axisTick:{show:true,length:2},splitLine:{show:false},axisLabel:{showMaxLabel:false,color:'#222'}};
const y=YA(g,0,5500,1000,8,mg(ax,{axisLabel:{formatter:v=>String(v)}}));
const y2=RA(g,6.2,8.5,.5,7.5,mg(ax,{axisLabel:{formatter:v=>v.toFixed(2)}}));
L('即期汇率:欧元兑人民币(右轴)','#2f5ea8',1,x,y2,P(0,.1,fxEUR));L('即期汇率:美元兑人民币(右轴)','#f00',1,x,y2,P(0,.1,fxUSD));L('上海出口集装箱运价指数:综合指数','#111',1,x,y,P(0,.1,fxSCFI));
TT('人民币即期汇率与SCFI走势',239,1735,12,{fontWeight:'normal'});
LG(19,1753,'上海出口集装箱运价指数:综合指数',8,17,3);LG(184,1753,'即期汇率:美元兑人民币(右轴)',8,18,3);LG(335,1753,'即期汇率:欧元兑人民币(右轴)',8,17,3);
})();
// 6 commodities
(function(){const g=G(520.5,1766,946,1947.3);
const x=XV(g,yearLabels,6.2,7.5,{axisLabel:{margin:7,color:'#222'},axisLine:{show:true,lineStyle:{color:'#777'}},axisTick:{show:true,length:3}});
const ax={axisLine:{show:true,lineStyle:{color:'#888'}},axisTick:{show:true,length:2},splitLine:{show:false},axisLabel:{showMaxLabel:false,color:'#222'}};
const y=YA(g,0,5093,1000,8,mg(ax,{axisLabel:{formatter:v=>String(v)}}));
const y2=RA(g,900,3000,200,8,mg(ax,{axisLabel:{formatter:v=>v.toLocaleString('en-US')}}));
L('上海出口集装箱运价指数(SCFI):综合指数','#f00',1.1,x,y,P(0,.1,cmSCFI));L('收盘价:Wind商品指数','#111',1.1,x,y2,P(0,.1,cmWind));
TT('商品指数与SCFI走势',733,1737,12.5,{fontWeight:'normal'});
LG(559,1752,'上海出口集装箱运价指数(SCFI):综合指数',8.6,19,3);LG(805.5,1752,'收盘价:Wind商品指数',8.6,19,3);
})();
// 7 deliveries
(function(){const g=G(53.6,2026,461.6,2201.7);
const x=XC(g,delYears,0,11,{axisLabel:{rotate:0,margin:10,fontWeight:'bold',color:'#595959'},axisLine:{lineStyle:{color:'#d9d9d9'}}});
const y=YA(g,0,1200000,200000,10,{axisLabel:{color:'#595959',formatter:v=>v.toLocaleString('en-US')}});
const y2=RA(g,0,70,10,10,{axisLabel:{color:'#595959'}});
B('>18,000数量','#f4b183',18.6,x,y,dQty18);B('15,200-17,999数量','#c8c8c8',18.6,x,y,dQty15);B('12,500-15,199数量','#ffd966',18.6,x,y,dQty12);
L('>18,000','#000',2.4,x,y2,dL18);L('15,200-17,999','#f00',2.4,x,y2,dL15);L('12,500-15,199','#ed7d31',2.4,x,y2,dL12);
TT('新交付运力',244,1983,13.6,{color:'#595959'});
[['>18,000数量',38],['15,200-17,999数量',192],['12,500-15,199数量',345]].forEach(a=>LG(a[1],1999,a[0],9.4,19,8));
[['>18,000',38],['15,200-17,999',192],['12,500-15,199',345]].forEach(a=>LG(a[1],2013,a[0],9.4,19,3));
})();
// 8 gcsp
(function(){const g=G(516,2019.7,973,2181.3);
const x=XC(g,gCat,1,6.5,{axisLine:{show:false},splitLine:{show:true,interval:1,lineStyle:{color:'#f0f0f0'}},axisLabel:{color:'#666'}});
const y=YA(g,0,90,10,9,{axisLabel:{color:'#222'}});const s={smooth:true};
L('GCSP:综合准班率指数','#f00',1.5,x,y,P(0,2,gAll),s);L('GCSP:收发货服务准班率指数','#000',1.5,x,y,P(0,2,gCargo),s);L('GCSP:到离港服务准班率指数','#ffc000',1.3,x,y,P(0,2,gSvc),s);
L('GCSP:到离港服务准班率:亚洲-欧洲','#9dc3e6',1.2,x,y,P(0,2,gEU),s);L('GCSP:到离港服务准班率:亚洲-地中海','#666',1.2,x,y,P(0,2,gMed),s);L('GCSP:到离港服务准班率:亚洲-美西','#e6a6a6',1.2,x,y,P(0,2,gUS),s);L('GCSP:港口准班率:新加坡','#a9d18e',1.2,x,y,P(0,2,gSG),s);
TT('GCSP到离港准班率',741,1982,13);
[['GCSP:综合准班率指数',500,1995],['GCSP:收发货服务准班率指数',659,1995],['GCSP:到离港服务准班率指数',817,1995],['GCSP:到离港服务准班率:亚洲-欧洲',500,2005],['GCSP:到离港服务准班率:亚洲-地中海',659,2005],['GCSP:到离港服务准班率:亚洲-美西',817,2005],['GCSP:港口准班率:新加坡',500,2014]].forEach(a=>LG(a[1],a[2],a[0],6.6,17,3));
})();
// 9 new three
(function(){const g=G(41.7,2277,463,2440);
const x=XC(g,xCat,0,7,{axisLine:{lineStyle:{color:'#aaa'}},splitLine:{show:true,lineStyle:{color:'#f0f0f0'}},axisLabel:{color:'#333'}});
const y=YA(g,0,1500,200,8.5,{axisLabel:{showMaxLabel:false,formatter:v=>v.toLocaleString('en-US')}});
const y2=RA(g,-50,200,50,8.5,{});
const bo={barGap:'-30%'};
B('中国:出口金额:汽车包括底盘:累计值:亿','#92d050',3.7,x,y,xCar,bo);B('中国:出口金额:电动载人汽车:累计值:亿','#ff1e1e',3.7,x,y,xEV,bo);B('中国:出口金额:集成电路:累计值:亿','#7fb2e5',3.7,x,y,xIC,bo);
L('中国:出口金额:汽车包括底盘:累计同比','#f00',1.5,x,y2,xCarY);L('中国:出口金额:电动载人汽车:累计同比','#0b72c4',1.5,x,y2,xEVY);L('中国:出口金额:集成电路:累计同比','#000',1.5,x,y2,xICY);
TT('中国新三样出口',257,2232,12,{fontWeight:'normal'});
[['中国:出口金额:汽车包括底盘:累计值:亿',6],['中国:出口金额:电动载人汽车:累计值:亿',167],['中国:出口金额:集成电路:累计值:亿',327]].forEach(a=>LG(a[1],2250,a[0],7.6,17,5));
[['中国:出口金额:汽车包括底盘:累计同比',6],['中国:出口金额:电动载人汽车:累计同比',167],['中国:出口金额:集成电路:累计同比',327]].forEach(a=>LG(a[1],2266,a[0],7.6,17,3));
})();
// 10 ports
(function(){const g=G(529,2263,957,2435.3);
const x=XC(g,pCat,1,6.5,{axisLine:{lineStyle:{color:'#aaa'}},splitLine:{show:true,interval:1,lineStyle:{color:'#f2f2f2'}},axisLabel:{color:'#333'}});
const y=YA(g,0,3500,500,10,{axisLabel:{formatter:v=>v.toLocaleString('en-US')}});const y2=RA(g,0,12,2,10,{});
B('中国:港口:集装箱吞吐量:当月值','#f4b183',2.8,x,y,pChina);B('中国:沿海:集装箱吞吐量:当月值','#9dc3e6',2.8,x,y,pCoast);
L('全国主要港口:集装箱吞吐量:当月同比','#f00',1.6,x,y2,pYoY);L('集装箱吞吐量:沿海合计:当月同比','#000',1.6,x,y2,pCoastY);
TT('港口集装箱吞吐量',744,2229,13);
LG(543,2245,'中国:港口:集装箱吞吐量:当月值',7.8,17,5);LG(789,2245,'中国:沿海:集装箱吞吐量:当月值',7.8,17,5);LG(543,2252.5,'全国主要港口:集装箱吞吐量:当月同比',7.8,17,3);LG(789,2252.5,'集装箱吞吐量:沿海合计:当月同比',7.8,17,3);
})();
// 11 industry
(function(){const g=G(41.7,2522.3,455.5,2682.7);
const x=XC(g,iCat,1,6.5,{axisLine:{lineStyle:{color:'#bcd'}},axisLabel:{color:'#333'}});
const y=YA(g,0,16000,2000,8.5,{axisLabel:{formatter:v=>v.toLocaleString('en-US')}});const y2=RA(g,-15,20,5,8.5,{splitLine:{show:false}});
B('中国:工业企业:产销率:当月值','#5b9bd5',4.4,x,y,iRate,{barGap:'-100%'});B('中国:工业企业:出口交货值:当月值','#f4b183',4.4,x,y,iExport,{barGap:'-100%'});
L('中国:工业企业:产销率:当月同比','#f00',1.6,x,y2,iRateY);L('中国:工业企业:出口交货值:当月同比','#000',1.6,x,y2,iExpY);
TT('中国工业企业产销',249,2479,13);
LG(49,2493,'中国:工业企业:产销率:当月值',8.2,18,5);LG(289,2493,'中国:工业企业:出口交货值:当月值',8.2,18,5);LG(49,2505,'中国:工业企业:产销率:当月同比',8.2,18,3);LG(289,2505,'中国:工业企业:出口交货值:当月同比',8.2,18,3);
})();
// 12 port cargo
(function(){const g=G(528.7,2508.5,980,2675);
const x=XC(g,tCat,2,7.5,{axisLine:{show:false},axisLabel:{color:'#333'}});
const y=YA(g,-20,55,10,9.5,{axisLabel:{showMaxLabel:false,formatter:v=>v.toFixed(2)},splitLine:{lineStyle:{color:'#f0f0f0'}}});
Z(x,y,0,71,'#666');
L('集装箱吞吐量:上海口岸:当月同比','#f8c6a0',1.2,x,y,P(1,1,tSH));L('中国:沿海主要港口货物吞吐量:当月同比','#111',1.2,x,y,tCoast);L('中国:外贸货物吞吐量:当月同比','#f00',1.2,x,y,tTrade);
TT('主要港口货物吞吐量同比',741,2481,14.5);
LG(517,2495,'中国:沿海主要港口货物吞吐量:当月同比',9,21,2);LG(768,2495,'中国:外贸货物吞吐量:当月同比',9,21,2);LG(518,2506,'集装箱吞吐量:上海口岸:当月同比',9,20,3);
})();
// 13 area
(function(){const g=G(48.5,2758.3,478,2929.4);
const x=XV(g,wLabels,18,9.5,{axisLabel:{rotate:45,showMaxLabel:true,color:'#333',margin:8},axisLine:{show:true,lineStyle:{color:'#444'}},axisTick:{show:true,length:3,lineStyle:{color:'#444'}}});
const y=YA(g,100,420,50,11,{axisLabel:{showMaxLabel:false,formatter:v=>String(v*1000),color:'#222'}});
L('中国--欧洲周度集装箱运力投放','#5b9bd5',.8,x,y,P(0,1/6,weeklyCap),{areaStyle:{color:'#5b9bd5',opacity:1}});
TT('中国--欧洲周度集装箱运力投放',259,2736,16.5);
})();
// 14 speed
(function(){const g=G(516,2753,973,2939);
const x=XC(g,wkCat,1,5.5,{axisLine:{show:false},splitLine:{show:true,interval:1,lineStyle:{color:'#f0f0f0'}},axisLabel:{color:'#777',rotate:90}});
const y=YA(g,9,12.5,.5,8.5,{axisLabel:{color:'#666'},splitLine:{lineStyle:{color:'#eee'}}});const s={smooth:true};
L('2020','#a9d18e',1.5,x,y,P(0,2,s20),s);L('2021','#8faadc',1.5,x,y,P(0,1,s21a).concat(P(8,2,s21)),s);L('2022','#f4b183',1.5,x,y,P(0,2,s22),s);
L('2025','#7fe3e0',1.2,x,y,P(0,2,s25),s);L('2026','#e8825c',1.2,x,y,P(0,2,s26),s);L('2023','#000',1.7,x,y,P(0,2,s23),s);L('2024','#f00',1.7,x,y,P(0,2,s24),s);
TT('全球船舶航速',743,2731,14.5,{color:'#444'});
['2020','2021','2022','2023','2024','2025','2026'].forEach((n,i)=>LG([525.5,591.6,656.4,722.5,788,854.6,918.8][i],2744,n,8.4,19,2));
})();

// ---- static layout ----
const light='#dae3f3',mid='#8faadc';
const boxes=[[320,3,665,50,light],[2,56,983,63,light],[2,122,983,21,mid],[2,146,486,167,light],[491,146,494,167,light],[77,315,908,151,light],[77,469,412,302,light],[559,469,426,302,light],[76,774,909,222,light],[76,999,909,66,light],[2,1067,983,24,mid],[2,1094,983,131,'#fff'],[2,1227,486,247,'#fff'],[491,1227,494,247,'#fff'],[2,1476,486,246,'#fff'],[491,1476,494,246,'#fff'],[2,1724,486,247,'#fff'],[491,1724,494,247,'#fff'],[2,1974,486,247,'#fff'],[491,1974,494,247,'#fff'],[2,2223,486,247,'#fff'],[491,2223,494,247,'#fff'],[2,2472,486,247,'#fff'],[491,2472,494,247,'#fff'],[2,2721,486,246,'#fff'],[491,2721,494,246,'#fff'],[2,2970,983,22,mid],[2,2995,983,227,mid]];
boxes.forEach(b=>{const d=document.createElement('div');d.className='b';d.style.cssText=`left:${b[0]}px;top:${b[1]}px;width:${b[2]}px;height:${b[3]}px;background:${b[4]}`;document.body.insertBefore(d,document.body.firstChild)});
const mctx=document.createElement('canvas').getContext('2d');
function fit(s,w,target){mctx.font=`${w} 100px ${F}`;return 100*target/mctx.measureText(s).width}
function T(x,y,s,fs,o){o=o||{};const d=document.createElement('div');d.className='t';d.textContent=s;const a=o.align==='c'?'-50%':o.align==='r'?'-100%':'0';d.style.cssText=`left:${x}px;top:${y}px;font-size:${fs}px;transform:translate(${a},-50%) scaleY(${o.sy||.86});font-weight:${o.w||500};color:${o.c||'#1c1c1c'};z-index:3`;document.body.appendChild(d)}
const titleText='2026年4月20日 集运日报',subText='(航运研究小组)';
T(455,28,titleText,fit(titleText,700,244),{w:700,c:'#14149a',sy:1});T(732,29,subText,fit(subText,500,109),{c:'#14149a',sy:1});
T(55,88,headline,fit(headline,700,865),{w:700,c:'#222',sy:1});T(494,132,'SCFIS、NCFI运价指数',fit('SCFIS、NCFI运价指数',500,164),{c:'#111',align:'c',sy:1});
const lfs=fit(leftBox[1][0],500,418),rfs=fit(rightBox[1][0],500,398);
leftBox.forEach(a=>T(244,a[1],a[0],a[2]>12?a[2]:lfs,{align:'c'}));rightBox.forEach(a=>T(737.5,a[1],a[0],a[2]>12?a[2]:rfs,{align:'c'}));
const mfs=fit(macroLines[0],500,866),tfs=fit(todayLines[0],500,380),sfs=fit(stratLines[0],500,393),pfs=fit(spotLines[0],500,880),gfs=fit(legalLines[0],500,972);
macroLines.forEach((s,i)=>T(95,325+i*22,s,mfs));
todayLines.forEach((s,i)=>T(95,509.5+i*22,s,tfs));
stratLines.forEach((s,i)=>T(579,553+i*22,s,sfs));
spotLines.forEach((s,i)=>T(95,796.5+i*22,s,pfs));
const riskText='地缘政治冲突事件、极端天气、外盘原油剧烈波动';
T(530,1032,riskText,fit(riskText,700,417),{align:'c',w:700,c:'#222',sy:.95});
[['宏观方面',36,360,23.5,24],['今日行情',38,648,27,25],['应对策略',524,652,27,25],['现货市场',36,830,27,25]].forEach(a=>[...a[0]].forEach((ch,i)=>T(a[1],a[2]+i*a[3],ch,a[4],{align:'c',w:700,c:'#fff',sy:1})));
T(38,1017,'风险',16,{align:'c',c:'#fff',sy:1,w:400});T(38,1037,'提示',16,{align:'c',c:'#fff',sy:1,w:400});
const barText='上海-鹿特丹40HC运价';T(494,1079,barText,fit(barText,700,192),{align:'c',w:700,c:'#111',sy:1});
const srcText='数据来源：宁波航交所、Wind';T(983,2982,srcText,fit(srcText,500,174),{align:'r',c:'#222',sy:.9});
[3031,3053,3076,3098,3120,3142,3164,3186].forEach((y,i)=>T(3,y,legalLines[i],gfs,{c:'#222'}));

const chart=echarts.init(document.getElementById('c'),null,{width:987,height:3224});
chart.setOption(opt);
</script></body></html>
